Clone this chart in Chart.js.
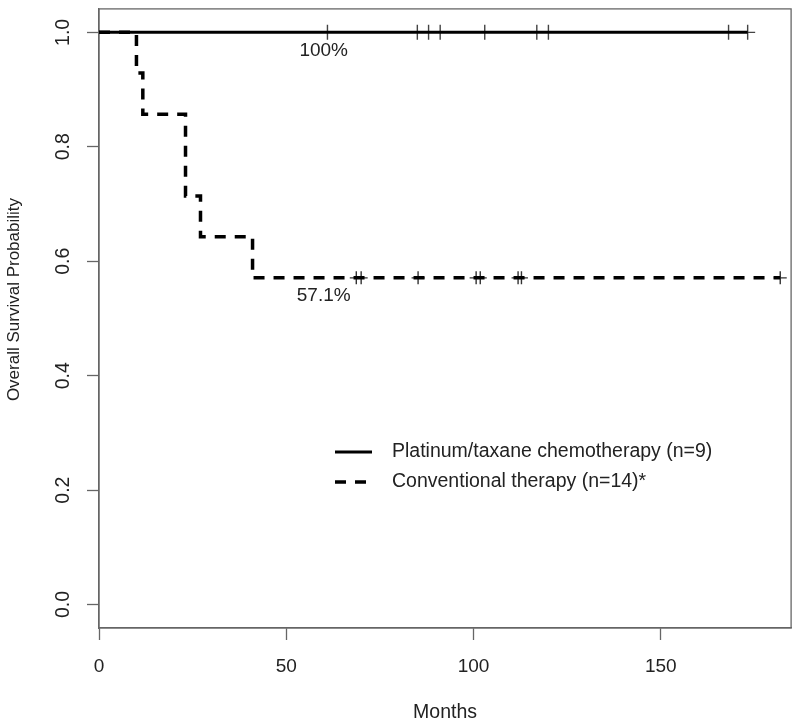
<!DOCTYPE html>
<html>
<head>
<meta charset="utf-8">
<script src="https://cdn.jsdelivr.net/npm/chart.js@4.4.0/dist/chart.umd.min.js"></script>
<style>
  html, body { margin: 0; padding: 0; background: #fff; }
  #wrap { width: 800px; height: 726px; }
</style>
</head>
<body>
<div id="wrap"><canvas id="kmChart" width="800" height="726"></canvas></div>
<script>
// Kaplan-Meier steps (months, survival probability)
const platinumTimes = [0, 173.2];
const platinumSurv  = [1.0, 1.0];
const platinumCensor = [61, 85, 88, 91.1, 103, 116.9, 120, 168.1, 173.2];

const conventionalTimes = [0, 10, 11.7, 23.1, 27.1, 41, 181.9];
const conventionalSurv  = [1.0, 0.929, 0.857, 0.714, 0.643, 0.571, 0.571];
const conventionalCensor = [68.7, 70, 85.2, 100.7, 101.8, 111.9, 112.8, 181.9];

const xTicks = [0, 50, 100, 150];
const yTicks = [0, 0.2, 0.4, 0.6, 0.8, 1.0];

const seriesLabels = ['Platinum/taxane chemotherapy (n=9)', 'Conventional therapy (n=14)*'];
const endLabels = ['100%', '57.1%'];
const endLabelMonths = [60, 60];
const endLabelSurv = [1.0, 0.571];

const FONT = "'Liberation Sans', Arial, sans-serif";
const TEXT = '#222';
const AXIS = '#666';

// survival value of a step curve at time t
function survAt(times, surv, t) {
  let s = surv[0];
  for (let i = 0; i < times.length; i++) {
    if (times[i] <= t) s = surv[i];
  }
  return s;
}

const toPoints = (xs, ys) => xs.map((x, i) => ({ x: x, y: ys[i] }));
const censorPoints = (cs, times, surv) => cs.map(t => ({ x: t, y: survAt(times, surv, t) }));

// box around the plot region, like R's box()
const boxPlugin = {
  id: 'box',
  beforeDatasetsDraw(chart) {
    const { ctx, chartArea: a } = chart;
    ctx.save();
    ctx.strokeStyle = AXIS;
    ctx.lineWidth = 1.3;
    ctx.strokeRect(a.left, a.top, a.right - a.left, a.bottom - a.top);
    ctx.restore();
  }
};

// "100%" / "57.1%" notes under the curves
const notePlugin = {
  id: 'notes',
  afterDatasetsDraw(chart) {
    const { ctx, scales: { x, y } } = chart;
    ctx.save();
    ctx.font = '19px ' + FONT;
    ctx.fillStyle = TEXT;
    ctx.textAlign = 'center';
    ctx.textBaseline = 'middle';
    endLabels.forEach((txt, i) => {
      ctx.fillText(txt, x.getPixelForValue(endLabelMonths[i]), y.getPixelForValue(endLabelSurv[i]) + 18);
    });
    ctx.restore();
  }
};

// legend drawn inside the plot, using the line datasets' styles
const legendPlugin = {
  id: 'kmLegend',
  afterDraw(chart) {
    const { ctx } = chart;
    const left = 335, top = 452, rowH = 30, sample = 37;
    ctx.save();
    ctx.font = '19.5px ' + FONT;
    ctx.textBaseline = 'middle';
    ctx.textAlign = 'left';
    [0, 1].forEach(i => {
      const ds = chart.data.datasets[i];
      const yy = top + i * rowH;
      ctx.strokeStyle = ds.borderColor;
      ctx.lineWidth = ds.borderWidth;
      ctx.setLineDash(ds.borderDash || []);
      ctx.beginPath();
      ctx.moveTo(left, yy);
      ctx.lineTo(left + sample, yy);
      ctx.stroke();
      ctx.setLineDash([]);
      ctx.fillStyle = TEXT;
      ctx.fillText(ds.label, left + sample + 20, yy);
    });
    ctx.restore();
  }
};

const ctx = document.getElementById('kmChart').getContext('2d');
const kmChart = new Chart(ctx, {
  type: 'scatter',
  data: {
    datasets: [
      {
        label: seriesLabels[0],
        data: toPoints(platinumTimes, platinumSurv),
        showLine: true,
        stepped: true,
        borderColor: '#000',
        borderWidth: 3,
        pointRadius: 0
      },
      {
        label: seriesLabels[1],
        data: toPoints(conventionalTimes, conventionalSurv),
        showLine: true,
        stepped: true,
        borderColor: '#000',
        borderWidth: 3.5,
        borderDash: [11, 9],
        pointRadius: 0
      },
      {
        label: 'censored',
        data: censorPoints(platinumCensor, platinumTimes, platinumSurv),
        pointStyle: 'cross',
        pointRadius: 7.5,
        borderWidth: 1.4,
        borderColor: '#444'
      },
      {
        label: 'censored',
        data: censorPoints(conventionalCensor, conventionalTimes, conventionalSurv),
        pointStyle: 'cross',
        pointRadius: 6.5,
        borderWidth: 1.4,
        borderColor: '#333'
      }
    ]
  },
  options: {
    responsive: false,
    animation: false,
    layout: { padding: { top: 8, right: 8, left: 0, bottom: 0 } },
    plugins: {
      legend: { display: false },
      tooltip: { enabled: false }
    },
    scales: {
      x: {
        type: 'linear',
        min: 0,
        max: 184.8,
        afterBuildTicks: s => { s.ticks = xTicks.map(v => ({ value: v })); },
        afterFit: s => { s.height = 98; s.paddingLeft = 0; s.paddingRight = 0; },
        ticks: { font: { family: FONT, size: 19 }, color: TEXT, padding: 15 },
        grid: { drawOnChartArea: false, tickLength: 12, tickColor: AXIS, tickWidth: 1.3 },
        border: { display: true, color: AXIS, width: 1.3 },
        title: {
          display: true,
          text: 'Months',
          font: { family: FONT, size: 19.5 },
          color: TEXT,
          padding: { top: 0, bottom: 2 }
        }
      },
      y: {
        type: 'linear',
        min: -0.041,
        max: 1.041,
        afterBuildTicks: s => { s.ticks = yTicks.map(v => ({ value: v })); },
        afterFit: s => { s.width = 99; s.paddingTop = 0; s.paddingBottom = 0; },
        ticks: {
          font: { family: FONT, size: 19.5 },
          color: TEXT,
          minRotation: 90,
          maxRotation: 90,
          crossAlign: 'center',
          padding: 10,
          callback: v => v.toFixed(1)
        },
        grid: { drawOnChartArea: false, tickLength: 12, tickColor: AXIS, tickWidth: 1.3 },
        border: { display: true, color: AXIS, width: 1.3 },
        title: {
          display: true,
          // leading spaces lift the centred title a little, as in the original
          text: ' '.repeat(8) + 'Overall Survival Probability',
          font: { family: FONT, size: 17 },
          color: TEXT,
          padding: { top: 4, bottom: 0 }
        }
      }
    }
  },
  plugins: [boxPlugin, notePlugin, legendPlugin]
});
</script>
</body>
</html>
